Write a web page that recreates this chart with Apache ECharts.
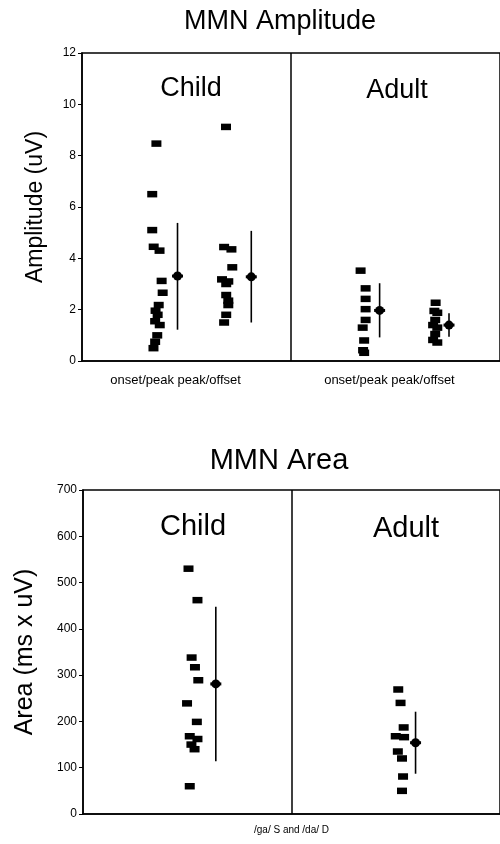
<!DOCTYPE html>
<html><head><meta charset="utf-8">
<script src="https://cdn.jsdelivr.net/npm/echarts@6/dist/echarts.min.js"></script>
<style>html,body{margin:0;padding:0;background:#fff}#c{width:500px;height:844px}</style>
</head><body><div id="c"></div>
<script>
// ---------- texts ----------
const ampTitle = 'MMN Amplitude';
const areaTitle = 'MMN Area';
const groupLabels = ['Child', 'Adult'];
const ampYName = 'Amplitude (uV)';
const areaYName = 'Area (ms x uV)';
const ampXLabels = ['onset/peak peak/offset', 'onset/peak peak/offset'];
const ampXLabelPos = [0.448, 1.471];
const areaXName = '/ga/ S and /da/ D';

// ---------- amplitude data: [x position, uV] ----------
const ampChildOnset = [[0.356,8.47],[0.336,6.5],[0.336,5.1],[0.343,4.45],[0.371,4.3],[0.381,3.12],[0.386,2.66],
  [0.367,2.18],[0.352,1.96],[0.362,1.8],[0.35,1.55],[0.372,1.4],[0.36,1.0],[0.35,0.75],[0.342,0.5]];
const ampChildPeak = [[0.689,9.12],[0.68,4.44],[0.715,4.35],[0.719,3.65],[0.67,3.18],[0.70,3.1],[0.69,3.0],
  [0.69,2.57],[0.70,2.35],[0.70,2.18],[0.69,1.8],[0.68,1.5]];
const ampAdultOnset = [[1.333,3.52],[1.357,2.83],[1.357,2.42],[1.357,2.02],[1.357,1.6],[1.343,1.3],[1.35,0.8],[1.345,0.42],[1.35,0.32]];
const ampAdultPeak = [[1.692,2.27],[1.686,1.95],[1.70,1.88],[1.69,1.6],[1.68,1.4],[1.70,1.3],[1.69,1.05],[1.68,0.82],[1.70,0.72]];
// [x, mean, mean-SD, mean+SD]
const ampStats = [[0.457,3.31,1.22,5.38],[0.81,3.28,1.5,5.07],[1.424,1.97,0.92,3.03],[1.756,1.4,0.94,1.86]];

// ---------- area data: [x position, ms x uV] ----------
const areaChild = [[0.506,530],[0.549,462],[0.521,338],[0.537,317],[0.553,289],[0.499,239],[0.546,199],
  [0.512,168],[0.549,162],[0.52,150],[0.535,140],[0.512,60]];
const areaAdult = [[1.512,269],[1.523,240],[1.538,187],[1.50,168],[1.54,166],[1.51,135],[1.53,120],[1.535,81],[1.53,50]];
const areaStats = [[0.637,281,114,448],[1.595,154,87,221]];

const FONT = 'Liberation Sans, Arial, Helvetica, sans-serif';

function statSeries(xi, yi, data) {
  return {
    type: 'custom', xAxisIndex: xi, yAxisIndex: yi, data: data, silent: true,
    encode: {x: 0, y: [1, 2, 3]},
    renderItem: function (params, api) {
      const x = api.value(0);
      const top = api.coord([x, api.value(3)]);
      const bot = api.coord([x, api.value(2)]);
      const mid = api.coord([x, api.value(1)]);
      return {type: 'group', children: [
        {type: 'line', shape: {x1: top[0], y1: top[1], x2: bot[0], y2: bot[1]}, style: {stroke: '#000', lineWidth: 1.6}},
        {type: 'circle', shape: {cx: mid[0], cy: mid[1], r: 4.5}, style: {fill: '#000'}},
        {type: 'line', shape: {x1: mid[0] - 5.5, y1: mid[1], x2: mid[0] + 5.5, y2: mid[1]}, style: {stroke: '#000', lineWidth: 3}}
      ]};
    }
  };
}
function ptSeries(xi, yi, data, divider) {
  const s = {
    type: 'scatter', xAxisIndex: xi, yAxisIndex: yi, data: data, symbol: 'rect', symbolSize: [10, 6.5],
    itemStyle: {color: '#000', opacity: 1}, silent: true
  };
  if (divider) {
    s.markLine = {silent: true, symbol: ['none', 'none'], label: {show: false},
      lineStyle: {color: '#000', type: 'solid', width: 1.5, opacity: 1}, data: [{xAxis: 1}]};
  }
  return s;
}

const chart = echarts.init(document.getElementById('c'));
chart.setOption({
  animation: false,
  backgroundColor: '#fff',
  textStyle: {fontFamily: FONT, color: '#000'},
  title: [
    {text: ampTitle, left: 275, top: 3, textAlign: 'center', textStyle: {fontSize: 27, fontWeight: 'normal', color: '#000', fontFamily: FONT}},
    {text: areaTitle, left: 274, top: 441, textAlign: 'center', textStyle: {fontSize: 29, fontWeight: 'normal', color: '#000', fontFamily: FONT}},
    {text: groupLabels[0], left: 186, top: 70, textAlign: 'center', textStyle: {fontSize: 27, fontWeight: 'normal', color: '#000', fontFamily: FONT}},
    {text: groupLabels[1], left: 392, top: 72, textAlign: 'center', textStyle: {fontSize: 27, fontWeight: 'normal', color: '#000', fontFamily: FONT}},
    {text: groupLabels[0], left: 188, top: 507, textAlign: 'center', textStyle: {fontSize: 29, fontWeight: 'normal', color: '#000', fontFamily: FONT}},
    {text: groupLabels[1], left: 401, top: 509, textAlign: 'center', textStyle: {fontSize: 29, fontWeight: 'normal', color: '#000', fontFamily: FONT}}
  ],
  grid: [
    {left: 82, top: 53, width: 420, height: 308, show: true, borderColor: '#000', borderWidth: 1.5, backgroundColor: 'transparent'},
    {left: 83, top: 490, width: 426, height: 324, show: true, borderColor: '#000', borderWidth: 1.5, backgroundColor: 'transparent'}
  ],
  xAxis: [
    {type: 'value', gridIndex: 0, min: 0, max: 2, splitLine: {show: false},
      axisLine: {lineStyle: {color: '#000', width: 1.5}}, axisTick: {show: false},
      axisLabel: {customValues: ampXLabelPos, fontSize: 13, color: '#000', margin: 13, fontFamily: FONT,
        formatter: function (v) { return ampXLabels[ampXLabelPos.indexOf(v)]; }}},
    {type: 'value', gridIndex: 1, min: 0, max: 2, splitLine: {show: false},
      axisLine: {lineStyle: {color: '#000', width: 1.5}}, axisTick: {show: false}, axisLabel: {show: false},
      name: areaXName, nameLocation: 'middle', nameGap: 11, nameTextStyle: {fontSize: 10, color: '#000', fontFamily: FONT, verticalAlign: 'top'}}
  ],
  yAxis: [
    {type: 'value', gridIndex: 0, min: 0, max: 12, interval: 2, splitLine: {show: false},
      axisLine: {show: true, lineStyle: {color: '#000', width: 1.5}},
      axisTick: {show: true, length: 4, lineStyle: {color: '#000'}},
      axisLabel: {fontSize: 12, color: '#000', margin: 6, fontFamily: FONT},
      name: ampYName, nameLocation: 'middle', nameGap: 35, nameRotate: 90,
      nameTextStyle: {fontSize: 23, color: '#000', fontFamily: FONT}},
    {type: 'value', gridIndex: 1, min: 0, max: 700, interval: 100, splitLine: {show: false},
      axisLine: {show: true, lineStyle: {color: '#000', width: 1.5}},
      axisTick: {show: true, length: 4, lineStyle: {color: '#000'}},
      axisLabel: {fontSize: 12, color: '#000', margin: 6, fontFamily: FONT},
      name: areaYName, nameLocation: 'middle', nameGap: 45, nameRotate: 90,
      nameTextStyle: {fontSize: 25, color: '#000', fontFamily: FONT}}
  ],
  series: [
    ptSeries(0, 0, ampChildOnset, true),
    ptSeries(0, 0, ampChildPeak),
    ptSeries(0, 0, ampAdultOnset),
    ptSeries(0, 0, ampAdultPeak),
    statSeries(0, 0, ampStats),
    ptSeries(1, 1, areaChild, true),
    ptSeries(1, 1, areaAdult),
    statSeries(1, 1, areaStats)
  ]
});
</script></body></html>
